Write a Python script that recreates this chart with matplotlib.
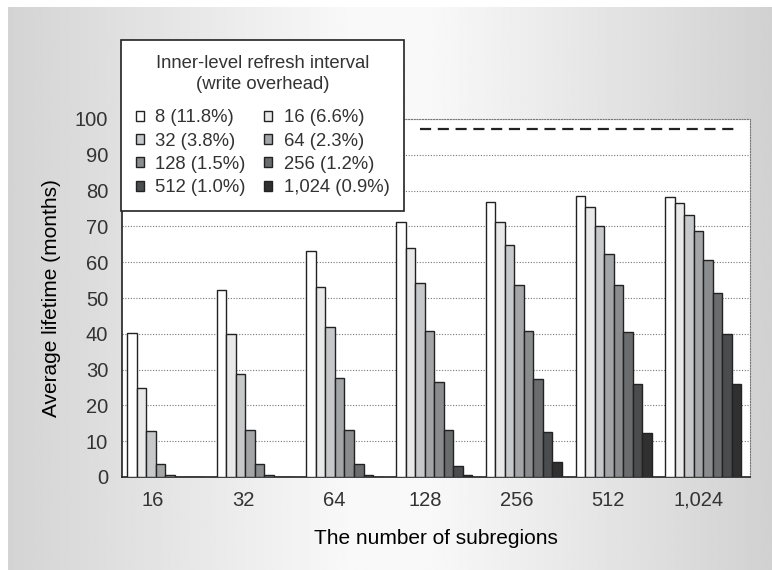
import matplotlib
matplotlib.use("Agg")
import matplotlib.pyplot as plt
import numpy as np

plt.rcParams['font.family'] = ['Liberation Sans', 'DejaVu Sans']
plt.rcParams['text.color'] = '#333333'

# Data
subregions = ['16', '32', '64', '128', '256', '512', '1,024']
interval_labels = ['8 (11.8%)', '16 (6.6%)', '32 (3.8%)', '64 (2.3%)',
                   '128 (1.5%)', '256 (1.2%)', '512 (1.0%)', '1,024 (0.9%)']

# average lifetime (months) for each inner-level refresh interval
lt_8 = [40.3, 52.3, 63.2, 71.2, 76.8, 78.6, 78.2]
lt_16 = [24.9, 40.0, 53.2, 64.0, 71.3, 75.5, 76.4]
lt_32 = [12.8, 28.7, 41.9, 54.2, 64.7, 70.0, 73.2]
lt_64 = [3.6, 13.2, 27.6, 40.9, 53.7, 62.3, 68.6]
lt_128 = [0.5, 3.6, 13.2, 26.4, 40.9, 53.7, 60.5]
lt_256 = [0.0, 0.5, 3.6, 13.1, 27.3, 40.4, 51.4]
lt_512 = [0.0, 0.0, 0.5, 3.1, 12.7, 25.9, 39.9]
lt_1024 = [0.0, 0.0, 0.0, 0.5, 4.1, 12.3, 25.9]
series = [lt_8, lt_16, lt_32, lt_64, lt_128, lt_256, lt_512, lt_1024]

target_lifetime = 97.2  # dashed reference line

colors = ['#ffffff', '#e9e9ea', '#c7c8ca', '#a4a5a7',
          '#8b8c8e', '#6b6c6e', '#4b4c4e', '#303030']

fig = plt.figure(figsize=(7.72, 5.70), dpi=100)

# gray gradient panel behind everything
bg = fig.add_axes([8 / 772, 0, 1 - 8 / 772, 1 - 7 / 570], zorder=-5)
xs = np.linspace(0, 1, 400)
shade = np.interp(xs, [0, 0.45, 0.55, 1], [0.83, 0.975, 0.975, 0.82])
bg.imshow(np.tile(shade, (10, 1)), cmap='gray', vmin=0, vmax=1,
          aspect='auto', extent=[0, 1, 0, 1])
bg.axis('off')

ax = fig.add_axes([122 / 772, 1 - 477 / 570, 628 / 772, 358 / 570])
ax.set_facecolor('white')

x = np.arange(len(subregions))
w = 0.106
start = -0.444
handles = []
for j, vals in enumerate(series):
    b = ax.bar(x + start + w * (j + 0.5), vals, w, color=colors[j],
               edgecolor='#222222', linewidth=1.0, label=interval_labels[j],
               zorder=3)
    handles.append(b)

ax.plot([2.82, 6.33], [target_lifetime] * 2, color='#222222', lw=1.6,
        ls=(0, (5, 3)), zorder=4)

ax.set_xlim(-0.5, 6.5)
ax.set_ylim(0, 100)
ax.set_yticks(np.arange(0, 101, 10))
ax.set_xticks(np.linspace(-0.16, 5.93, 7))
ax.set_xticklabels(subregions)
ax.tick_params(length=0, labelsize=14.5, colors='#333333', pad=10)
ax.yaxis.grid(True, color='#777777', lw=0.8, ls=(0, (1, 1.5)), zorder=0)

for s in ['left', 'bottom']:
    ax.spines[s].set_color('#222222')
    ax.spines[s].set_linewidth(1.2)
for s in ['top', 'right']:
    ax.spines[s].set_color('#777777')
    ax.spines[s].set_linewidth(0.8)
    ax.spines[s].set_linestyle((0, (1, 1.5)))

ax.set_ylabel('Average lifetime (months)', fontsize=15, labelpad=10)
ax.set_xlabel('The number of subregions', fontsize=15, labelpad=14)

order = [0, 2, 4, 6, 1, 3, 5, 7]
leg = ax.legend([handles[i] for i in order], [interval_labels[i] for i in order],
                ncol=2, loc='upper left',
                bbox_to_anchor=(121 / 772, 1 - 40 / 570),
                bbox_transform=fig.transFigure,
                title='Inner-level refresh interval\n(write overhead)',
                fontsize=13.3, title_fontsize=13.3, fancybox=False,
                edgecolor='#222222', framealpha=1, borderpad=0.8,
                handlelength=0.45, handleheight=0.45, handletextpad=0.6,
                columnspacing=1.0, labelspacing=0.34, borderaxespad=0)
leg.get_frame().set_linewidth(1.2)
leg.get_title().set_multialignment('center')
leg.get_title().set_linespacing(1.3)
leg._legend_box.sep = 12
leg.set_zorder(10)

fig.savefig('out.png', dpi=100)
